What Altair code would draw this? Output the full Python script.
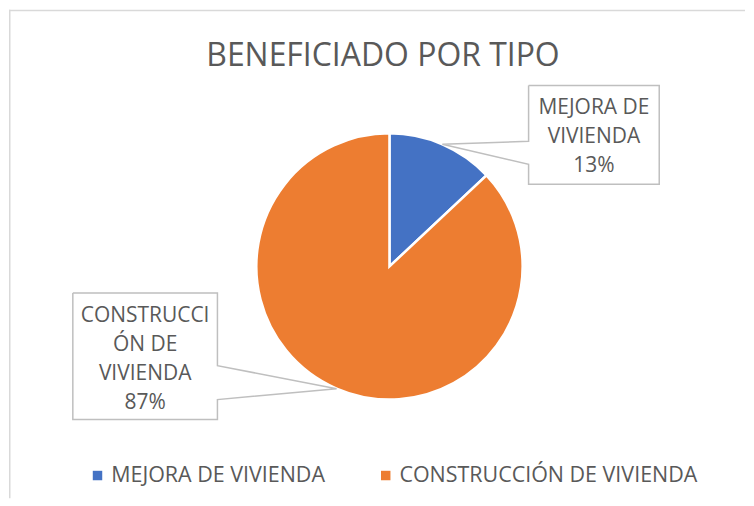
import altair as alt
import pandas as pd
import numpy as np

# ---- data ----
categories = ["MEJORA DE VIVIENDA", "CONSTRUCCIÓN DE VIVIENDA"]
values = [13, 87]
callout_lines = [["MEJORA DE", "VIVIENDA"], ["CONSTRUCCI", "ÓN DE", "VIVIENDA"]]
colors = ["#4472C4", "#ED7D31"]
title_text = "BENEFICIADO POR TIPO"

# ---- layout ----
W, H = 738, 490
CX, CY, R = 381.5, 257.5, 133.5
FONT = "Open Sans"
TXT = "#595959"
LINE = "#BFBFBF"

total = sum(values)
pie_df = pd.DataFrame({"category": categories, "value": values, "order": range(len(values))})

# mid angles for leader tips
cum = np.cumsum([0] + values[:-1])
mid = [2 * np.pi * (c + v / 2) / total for c, v in zip(cum, values)]
tips = [(CX + R * np.sin(a), CY - R * np.cos(a)) for a in mid]

boxes = [
    dict(x0=521, y0=76, x1=652, y1=175, side="left", pa=132, pb=155, base=105, step=29),
    dict(x0=64, y0=284, x1=209, y1=411, side="right", pa=357, pb=391, base=313, step=29),
]

outline_rows, text_rows, rect_rows = [], [], []
for i, (b, tip, lines, v) in enumerate(zip(boxes, tips, callout_lines, values)):
    x0, y0, x1, y1 = b["x0"], b["y0"], b["x1"], b["y1"]
    if b["side"] == "left":
        pts = [(x0, y0), (x1, y0), (x1, y1), (x0, y1), (x0, b["pb"]), tip, (x0, b["pa"]), (x0, y0)]
    else:
        pts = [(x0, y0), (x1, y0), (x1, b["pa"]), tip, (x1, b["pb"]), (x1, y1), (x0, y1), (x0, y0)]
    for k, (px, py) in enumerate(pts):
        outline_rows.append({"cid": i, "k": k, "x": px, "y": py})
    rect_rows.append({"x": x0, "x2": x1, "y": y0, "y2": y1})
    all_lines = lines + [f"{round(100 * v / total)}%"]
    for j, t in enumerate(all_lines):
        text_rows.append({"x": (x0 + x1) / 2, "y": b["base"] + j * b["step"], "text": t})

outline_df = pd.DataFrame(outline_rows)
text_df = pd.DataFrame(text_rows)
rect_df = pd.DataFrame(rect_rows)
title_df = pd.DataFrame({"x": [375], "y": [56], "text": [title_text]})

xs = alt.Scale(domain=[0, W], range=[0, W], nice=False, zero=False)
ys = alt.Scale(domain=[0, H], range=[0, H], nice=False, zero=False)

pie = alt.Chart(pie_df).mark_arc(radius=R, stroke="white", strokeWidth=2.5).encode(
    theta=alt.Theta("value:Q", stack=True),
    color=alt.Color(
        "category:N",
        scale=alt.Scale(domain=categories, range=colors),
        sort=categories,
        legend=alt.Legend(
            title=None, orient="none", legendX=78, legendY=456, direction="horizontal",
            symbolType="square", symbolSize=90, symbolStrokeWidth=0,
            labelFontSize=21.5, labelColor=TXT, labelFont=FONT, labelLimit=500,
            columnPadding=50, labelOffset=3, padding=0,
        ),
    ),
    order=alt.Order("order:Q"),
    x=alt.value(CX),
    y=alt.value(CY),
)

rects = alt.Chart(rect_df).mark_rect(fill="white", stroke=None).encode(
    x=alt.X("x:Q", scale=xs, axis=None), x2="x2:Q",
    y=alt.Y("y:Q", scale=ys, axis=None), y2="y2:Q",
)

outlines = alt.Chart(outline_df).mark_line(color=LINE, strokeWidth=1.5).encode(
    x=alt.X("x:Q", scale=xs, axis=None),
    y=alt.Y("y:Q", scale=ys, axis=None),
    detail="cid:N",
    order="k:Q",
)

texts = alt.Chart(text_df).mark_text(
    font=FONT, fontSize=21, color=TXT, align="center", baseline="alphabetic"
).encode(
    x=alt.X("x:Q", scale=xs, axis=None),
    y=alt.Y("y:Q", scale=ys, axis=None),
    text="text:N",
)

title = alt.Chart(title_df).mark_text(
    font=FONT, fontSize=32, color=TXT, align="center", baseline="alphabetic"
).encode(
    x=alt.X("x:Q", scale=xs, axis=None),
    y=alt.Y("y:Q", scale=ys, axis=None),
    text="text:N",
)

border_left = alt.Chart(title_df).mark_rule(color="#D9D9D9", strokeWidth=1.5).encode(
    x=alt.value(0.75), y=alt.value(0), y2=alt.value(H)
)
border_top = alt.Chart(title_df).mark_rule(color="#D9D9D9", strokeWidth=1.5).encode(
    y=alt.value(0.75), x=alt.value(0), x2=alt.value(W)
)

chart = alt.layer(
    border_left, border_top, pie, rects, outlines, texts, title
).properties(
    width=W, height=H, padding=0, background="white"
).configure_view(stroke=None)

chart.save("out.html", embed_options={"renderer": "svg", "actions": False})
